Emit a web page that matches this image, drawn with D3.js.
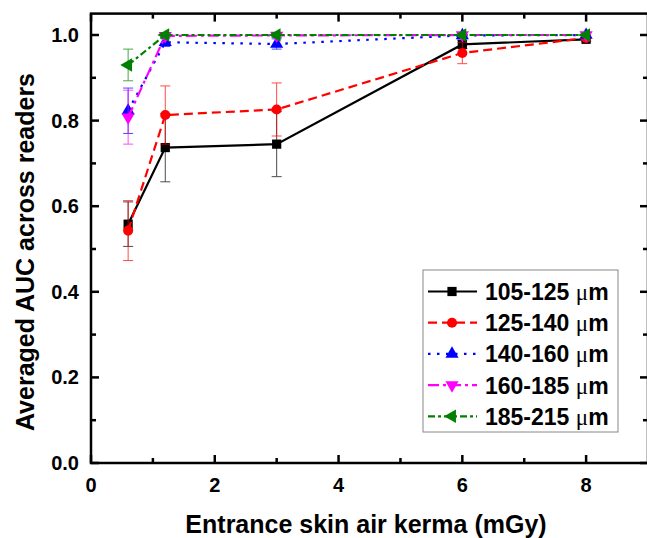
<!DOCTYPE html>
<html><head><meta charset="utf-8">
<script src="https://cdn.jsdelivr.net/npm/d3@7/dist/d3.min.js"></script>
<style>body{margin:0;background:#fff;} svg{display:block;}</style>
</head><body>
<script>
const xValues = [0.6, 1.2, 3, 6, 8];
const seriesNames = ["105-125", "125-140", "140-160", "160-185", "185-215"];
const s105 = [0.558, 0.737, 0.745, 0.978, 0.990];
const s125 = [0.543, 0.813, 0.826, 0.958, 0.993];
const s140 = [0.823, 0.983, 0.979, 0.999, 1.000];
const s160 = [0.808, 0.998, 0.999, 1.000, 1.000];
const s185 = [0.930, 1.000, 1.000, 1.000, 1.000];
const e105 = [0.052, 0.080, 0.076, 0.010, 0.005];
const e125 = [0.070, 0.068, 0.062, 0.025, 0.006];
const e140 = [0.053, 0.010, 0.012, 0.000, 0.000];
const e160 = [0.063, 0.005, 0.005, 0.000, 0.000];
const e185 = [0.037, 0.005, 0.005, 0.000, 0.000];
const xTicks = [0, 2, 4, 6, 8];
const yTicks = [0.0, 0.2, 0.4, 0.6, 0.8, 1.0];
const xTitle = "Entrance skin air kerma (mGy)";
const yTitle = "Averaged AUC across readers";

const styles = [
  {color:"#000000", dash:null, sym:d3.symbolSquare, size:85, rot:0},
  {color:"#ff0000", dash:"9,5", sym:d3.symbolCircle, size:80, rot:0},
  {color:"#0000ff", dash:"2.5,6.5", sym:d3.symbolTriangle, size:75, rot:0},
  {color:"#ff00ff", dash:"11,4,3,4", sym:d3.symbolTriangle, size:75, rot:180},
  {color:"#008000", dash:"7,3,3,3", sym:d3.symbolTriangle, size:80, rot:-90}
];
const values = [s105, s125, s140, s160, s185];
const errs = [e105, e125, e140, e160, e185];

const W = 647, H = 538;
const svg = d3.select("body").append("svg").attr("width", W).attr("height", H);
const x = d3.scaleLinear().domain([0, 9]).range([91, 648]);
const y = d3.scaleLinear().domain([0, 1.05]).range([463, 463 - 1.05 * 428]);
const font = "Arial, 'Liberation Sans', sans-serif";

// frame
const g = svg.append("g");
const [x0, x1] = x.range(), [y0, y1] = y.range();
g.append("rect").attr("x", x0).attr("y", y1).attr("width", x1 - x0).attr("height", y0 - y1)
  .attr("fill", "none").attr("stroke", "#000").attr("stroke-width", 2.5);

// ticks
const xMinor = d3.range(1, 10, 2);
xTicks.forEach(t => {
  g.append("line").attr("x1", x(t)).attr("x2", x(t)).attr("y1", y0).attr("y2", y0 - 8).attr("stroke", "#000").attr("stroke-width", 2.5);
  g.append("line").attr("x1", x(t)).attr("x2", x(t)).attr("y1", y1).attr("y2", y1 + 8).attr("stroke", "#000").attr("stroke-width", 2.5);
  g.append("text").attr("x", x(t)).attr("y", 492).attr("text-anchor", "middle")
    .attr("font-family", font).attr("font-weight", "bold").attr("font-size", 20).text(d3.format("d")(t));
});
xMinor.forEach(t => {
  if (x(t) > x1 - 2) return;
  g.append("line").attr("x1", x(t)).attr("x2", x(t)).attr("y1", y0).attr("y2", y0 - 5).attr("stroke", "#000").attr("stroke-width", 2.5);
  g.append("line").attr("x1", x(t)).attr("x2", x(t)).attr("y1", y1).attr("y2", y1 + 5).attr("stroke", "#000").attr("stroke-width", 2.5);
});
yTicks.forEach(t => {
  g.append("line").attr("x1", x0).attr("x2", x0 + 8).attr("y1", y(t)).attr("y2", y(t)).attr("stroke", "#000").attr("stroke-width", 2.5);
  g.append("line").attr("x1", x1).attr("x2", x1 - 8).attr("y1", y(t)).attr("y2", y(t)).attr("stroke", "#000").attr("stroke-width", 2.5);
  g.append("text").attr("x", 79).attr("y", y(t) + 7).attr("text-anchor", "end")
    .attr("font-family", font).attr("font-weight", "bold").attr("font-size", 20).text(d3.format(".1f")(t));
});
d3.range(0.1, 1.05, 0.2).forEach(t => {
  g.append("line").attr("x1", x0).attr("x2", x0 + 5).attr("y1", y(t)).attr("y2", y(t)).attr("stroke", "#000").attr("stroke-width", 2.5);
  g.append("line").attr("x1", x1).attr("x2", x1 - 5).attr("y1", y(t)).attr("y2", y(t)).attr("stroke", "#000").attr("stroke-width", 2.5);
});

// titles
svg.append("text").attr("x", 366).attr("y", 533).attr("text-anchor", "middle")
  .attr("font-family", font).attr("font-weight", "bold").attr("font-size", 25).text(xTitle);
svg.append("text").attr("transform", "translate(34,252) rotate(-90)")
  .attr("text-anchor", "middle").attr("font-family", font).attr("font-weight", "bold").attr("font-size", 25).text(yTitle);

// series
const line = d3.line().x(d => x(d[0])).y(d => y(d[1]));
values.forEach((vals, i) => {
  const st = styles[i];
  const pts = xValues.map((xv, j) => [xv, vals[j], errs[i][j]]);
  const sg = svg.append("g");
  pts.forEach(p => {
    if (p[2] <= 0) return;
    const eg = sg.append("g").attr("stroke", st.color).attr("stroke-width", 1).attr("opacity", 0.7);
    eg.append("line").attr("x1", x(p[0])).attr("x2", x(p[0])).attr("y1", y(p[1] - p[2])).attr("y2", y(p[1] + p[2]));
    [p[1] - p[2], p[1] + p[2]].forEach(v => eg.append("line").attr("x1", x(p[0]) - 5).attr("x2", x(p[0]) + 5).attr("y1", y(v)).attr("y2", y(v)));
  });
  sg.append("path").attr("d", line(pts)).attr("fill", "none").attr("stroke", st.color)
    .attr("stroke-width", 2.2).attr("stroke-dasharray", st.dash);
  pts.forEach(p => {
    sg.append("path").attr("d", d3.symbol(st.sym, st.size)())
      .attr("transform", "translate(" + x(p[0]) + "," + y(p[1]) + ") rotate(" + st.rot + ")")
      .attr("fill", st.color);
  });
});

// legend
const lg = svg.append("g");
lg.append("rect").attr("x", 423).attr("y", 270).attr("width", 195).attr("height", 162)
  .attr("fill", "#fff").attr("stroke", "#888").attr("stroke-width", 1);
seriesNames.forEach((name, i) => {
  const st = styles[i];
  const cy = 291.5 + i * 31.2;
  lg.append("line").attr("x1", 428).attr("x2", 477).attr("y1", cy).attr("y2", cy)
    .attr("stroke", st.color).attr("stroke-width", 2.2).attr("stroke-dasharray", st.dash);
  lg.append("path").attr("d", d3.symbol(st.sym, st.size)())
    .attr("transform", "translate(452," + cy + ") rotate(" + st.rot + ")").attr("fill", st.color);
  const t = lg.append("text").attr("x", 485).attr("y", cy + 8.5)
    .attr("font-family", font).attr("font-weight", "bold").attr("font-size", 23);
  t.append("tspan").text(name + " ");
  t.append("tspan").attr("font-family", "'Liberation Serif', 'DejaVu Serif', serif").attr("font-weight", "normal").text("μ");
  t.append("tspan").text("m");
});
</script>
</body></html>
